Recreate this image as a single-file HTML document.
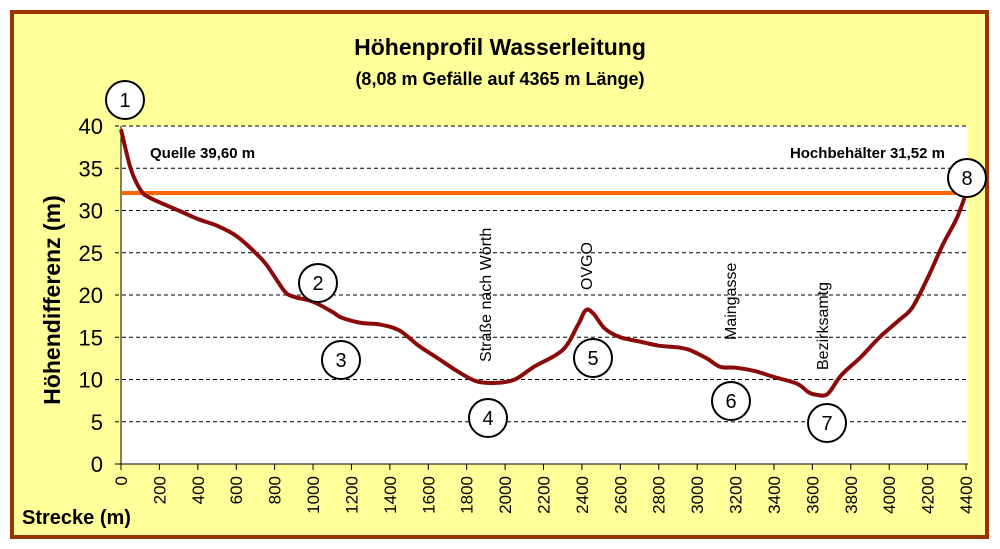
<!DOCTYPE html><html><head><style>body{margin:0;background:#fff}svg{display:block}text{font-family:"Liberation Sans",Arial,sans-serif}</style></head><body>
<svg id="s" width="1000" height="549" xmlns="http://www.w3.org/2000/svg">
<rect x="12" y="12" width="975" height="525" fill="#ffff99" stroke="#993300" stroke-width="4"/>
<rect x="121" y="126" width="847" height="338" fill="#fff"/>
<g id="grid" stroke="#000" stroke-width="1" stroke-dasharray="4,3"></g>
<line x1="121" y1="126" x2="121" y2="464" stroke="#000"/>
<line x1="115" y1="464" x2="968" y2="464" stroke="#000"/>
<g id="ticks"></g>
<text x="500" y="55" font-size="23" font-weight="bold" text-anchor="middle">Höhenprofil Wasserleitung</text>
<text x="500" y="85" font-size="18" font-weight="bold" text-anchor="middle">(8,08 m Gefälle auf 4365 m Länge)</text>
<text transform="translate(60,300) rotate(-90)" font-size="23" font-weight="bold" text-anchor="middle">Höhendifferenz (m)</text>
<text x="22" y="524" font-size="20" font-weight="bold">Strecke (m)</text>
<text x="150" y="158" font-size="15" font-weight="bold">Quelle 39,60 m</text>
<text x="945" y="158" font-size="15" font-weight="bold" text-anchor="end">Hochbehälter 31,52 m</text>
<line x1="121" y1="193" x2="966" y2="193" stroke="#ff6600" stroke-width="4"/>
<path id="c" fill="none" stroke="#8b0a0a" stroke-width="4" stroke-linejoin="round"/>
<g font-size="16">
<text transform="translate(491,362) rotate(-90)">Straße nach Wörth</text>
<text transform="translate(592,290) rotate(-90)">OVGO</text>
<text transform="translate(736,340) rotate(-90)">Maingasse</text>
<text transform="translate(828,370) rotate(-90)">Bezirksamtg</text>
</g>
<g id="circ" font-size="20"></g>
</svg>
<script>
var s="http://www.w3.org/2000/svg";function X(v){return 121+v*0.19205}function Y(v){return 464-v*8.45}
function el(p,t,a,txt){var e=document.createElementNS(s,t);for(var k in a)e.setAttribute(k,a[k]);if(txt!=null)e.textContent=txt;document.getElementById(p).appendChild(e);return e}
for(var v=5;v<=40;v+=5)el('grid','line',{x1:115,y1:Y(v),x2:968,y2:Y(v)});
for(var v=0;v<=40;v+=5)el('ticks','text',{x:103,y:Y(v)+8,'font-size':22,'text-anchor':'end'},v);
for(var m=0;m<=4400;m+=200){var x=X(m);el('ticks','line',{x1:x,y1:464,x2:x,y2:470,stroke:'#000'});el('ticks','text',{transform:'translate('+(x+6)+',476) rotate(-90)','font-size':17,'text-anchor':'end'},m)}
var d=[[0,39.6],[50,35],[100,32.5],[150,31.5],[300,30],[400,29],[500,28.2],[600,27],[700,25],[760,23.5],[850,20.5],[900,19.8],[1000,19.2],[1100,18],[1150,17.3],[1250,16.7],[1350,16.5],[1450,15.8],[1550,14],[1650,12.5],[1750,11],[1850,9.8],[1950,9.6],[2050,10],[2150,11.5],[2300,13.5],[2380,16.5],[2420,18.2],[2460,17.8],[2520,16],[2600,15],[2700,14.5],[2800,14],[2900,13.8],[2960,13.5],[3050,12.5],[3120,11.5],[3200,11.4],[3300,11],[3400,10.3],[3520,9.5],[3580,8.5],[3620,8.2],[3680,8.3],[3750,10.5],[3850,12.6],[3950,15],[4050,17],[4120,18.5],[4200,22],[4280,26],[4350,29],[4400,32]];
var P=d.map(function(p){return[X(p[0]),Y(p[1])]});var str='M'+P[0][0]+','+P[0][1];
for(var i=0;i<P.length-1;i++){var p0=P[Math.max(0,i-1)],p1=P[i],p2=P[i+1],p3=P[Math.min(P.length-1,i+2)];
var c1=[p1[0]+(p2[0]-p0[0])/6,p1[1]+(p2[1]-p0[1])/6],c2=[p2[0]-(p3[0]-p1[0])/6,p2[1]-(p3[1]-p1[1])/6];
str+=' C'+c1[0].toFixed(1)+','+c1[1].toFixed(1)+' '+c2[0].toFixed(1)+','+c2[1].toFixed(1)+' '+p2[0].toFixed(1)+','+p2[1].toFixed(1);}
document.getElementById('c').setAttribute('d',str);
[[125,100,1],[318,283,2],[341,360,3],[488,418,4],[593,358,5],[731,401,6],[827,423,7],[967,178,8]].forEach(function(c){el('circ','circle',{cx:c[0],cy:c[1],r:19,fill:'#fff',stroke:'#000','stroke-width':2});el('circ','text',{x:c[0],y:c[1]+7,'text-anchor':'middle'},c[2])});
</script>
</body></html>
